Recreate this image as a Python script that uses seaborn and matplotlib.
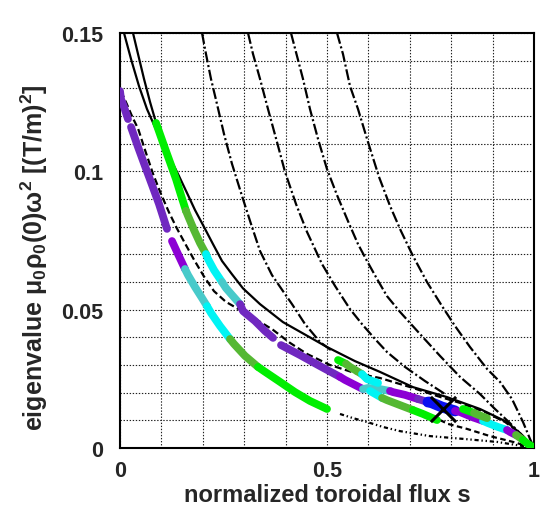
import numpy as np
import matplotlib
matplotlib.use("Agg")
import matplotlib.pyplot as plt
import seaborn as sns
from matplotlib.ticker import MultipleLocator, FixedLocator

# ---------------- data ----------------
# solid continuum branch 1
s1_x = [0.0097, 0.0266, 0.0459, 0.0652, 0.0845, 0.1039, 0.1232, 0.1425, 0.1618, 0.1812,
        0.2029, 0.2246, 0.2464, 0.2705, 0.2971, 0.3382, 0.3937, 0.5000, 0.5676, 0.6280,
        0.7077, 0.7899, 0.8696, 0.9348, 0.9734, 1.0]
s1_y = [0.1500, 0.1406, 0.1308, 0.1225, 0.1160, 0.1099, 0.1041, 0.0983, 0.0922, 0.0860,
        0.0799, 0.0737, 0.0676, 0.0628, 0.0577, 0.0520, 0.0455, 0.0365, 0.0314, 0.0275,
        0.0220, 0.0184, 0.0141, 0.0094, 0.0043, 0.0]
# solid continuum branch 2 (upper part)
s2_x = [0.0314, 0.0435, 0.0580, 0.0725, 0.0845, 0.0966, 0.1111, 0.1232]
s2_y = [0.1500, 0.1424, 0.1334, 0.1251, 0.1189, 0.1135, 0.1073, 0.1023]
# dashed branch
d_x = [0.0024, 0.0165, 0.0300, 0.0440, 0.0620, 0.0800, 0.0990, 0.1180, 0.1370, 0.1580,
       0.1790, 0.2020, 0.2270, 0.2560, 0.2899, 0.3309, 0.3696, 0.4106, 0.4517, 0.5072,
       0.5676, 0.6280, 0.7077, 0.7657, 0.8213, 0.8816, 0.9300, 0.9662, 1.0]
d_y = [0.1290, 0.1243, 0.1196, 0.1153, 0.1070, 0.0990, 0.0918, 0.0853, 0.0795, 0.0737,
       0.0680, 0.0622, 0.0567, 0.0528, 0.0499, 0.0463, 0.0427, 0.0380, 0.0340, 0.0300,
       0.0271, 0.0253, 0.0217, 0.0188, 0.0163, 0.0130, 0.0094, 0.0054, 0.0]
# dash-dot branches
c1_x = [0.1981, 0.2077, 0.2198, 0.2343, 0.2512, 0.2705, 0.2947, 0.3164, 0.3382, 0.3671,
        0.3937, 0.4155, 0.4469, 0.4831, 0.5121]
c1_y = [0.1500, 0.1424, 0.1334, 0.1243, 0.1135, 0.1027, 0.0911, 0.0810, 0.0712, 0.0625,
        0.0567, 0.0520, 0.0448, 0.0383, 0.0351]
c2_x = [0.3092, 0.3213, 0.3382, 0.3575, 0.3792, 0.3986, 0.4251, 0.4517, 0.4879, 0.5193,
        0.5556, 0.5845, 0.6159, 0.6449, 0.6884, 0.7367, 0.7850]
c2_y = [0.1500, 0.1424, 0.1334, 0.1225, 0.1106, 0.0998, 0.0882, 0.0781, 0.0665, 0.0586,
        0.0502, 0.0448, 0.0394, 0.0347, 0.0293, 0.0242, 0.0195]
c3_x = [0.4130, 0.4275, 0.4420, 0.4589, 0.4783, 0.5000, 0.5242, 0.5507, 0.5749, 0.5966,
        0.6208, 0.6449, 0.6763, 0.7246, 0.7729, 0.8213, 0.8696, 0.9058, 0.9420, 0.9734, 1.0]
c3_y = [0.1500, 0.1417, 0.1334, 0.1225, 0.1117, 0.1008, 0.0914, 0.0820, 0.0737, 0.0676,
        0.0611, 0.0549, 0.0492, 0.0412, 0.0333, 0.0257, 0.0195, 0.0141, 0.0090, 0.0043, 0.0]
c4_x = [0.5242, 0.5386, 0.5556, 0.5749, 0.5990, 0.6256, 0.6522, 0.6787, 0.7077, 0.7415,
        0.7778, 0.8092, 0.8454, 0.8865, 0.9179, 0.9469, 0.9734, 0.9903, 1.0]
c4_y = [0.1500, 0.1424, 0.1308, 0.1225, 0.1106, 0.0980, 0.0875, 0.0784, 0.0694, 0.0600,
        0.0513, 0.0441, 0.0365, 0.0286, 0.0239, 0.0177, 0.0094, 0.0033, 0.0]
# lower branches
l1_x = [0.5314, 0.5628, 0.5966, 0.6353, 0.6763, 0.7488, 0.8285, 0.9106, 0.9734, 1.0]
l1_y = [0.0123, 0.0108, 0.0094, 0.0076, 0.0061, 0.0043, 0.0033, 0.0022, 0.0007, 0.0]
l2_x = [0.7729, 0.7923, 0.8382, 0.8937, 0.9493, 0.9903, 1.0]
l2_y = [0.0101, 0.0087, 0.0069, 0.0043, 0.0022, 0.0004, 0.0]

# coloured eigenmode bands (segments, in order along each band)
p1_x = [0.0, 0.0024, 0.0097, 0.0193];            p1_y = [0.1290, 0.1261, 0.1233, 0.1189]
p2_x = [0.0266, 0.0435, 0.0604, 0.0773, 0.0942, 0.1135]
p2_y = [0.1160, 0.1088, 0.1019, 0.0951, 0.0882, 0.0792]
p3_x = [0.1256, 0.1401, 0.1570];                  p3_y = [0.0748, 0.0701, 0.0647]
p4_x = [0.1643, 0.1812, 0.1981, 0.2101];          p4_y = [0.0625, 0.0582, 0.0542, 0.0513]
p5_x = [0.2198, 0.2415, 0.2657];                  p5_y = [0.0488, 0.0441, 0.0394]
p6_x = [0.2754, 0.3019, 0.3333];                  p6_y = [0.0376, 0.0333, 0.0293]
p7_x = [0.3478, 0.3865, 0.4227, 0.4589, 0.5000];  p7_y = [0.0278, 0.0239, 0.0202, 0.0170, 0.0141]

g1_x = [0.0870, 0.0990, 0.1111, 0.1232, 0.1353, 0.1473, 0.1594]
g1_y = [0.1175, 0.1124, 0.1073, 0.1023, 0.0972, 0.0914, 0.0857]
g2_x = [0.1643, 0.1787, 0.1932, 0.2077];          g2_y = [0.0839, 0.0788, 0.0741, 0.0701]
g3_x = [0.2126, 0.2271, 0.2464];                  g3_y = [0.0683, 0.0643, 0.0600]
g4_x = [0.2560, 0.2729, 0.2899];                  g4_y = [0.0578, 0.0549, 0.0520]
g5_x = [0.2971, 0.3261, 0.3502, 0.3696];          g5_y = [0.0495, 0.0459, 0.0423, 0.0398]
g6_x = [0.3889, 0.4348, 0.4831, 0.5314];          g6_y = [0.0372, 0.0336, 0.0296, 0.0257]
g7_x = [0.5435, 0.5870];                          g7_y = [0.0246, 0.0213]
g8_x = [0.5990, 0.6280, 0.6522];                  g8_y = [0.0217, 0.0213, 0.0206]
g9_x = [0.6594, 0.6884, 0.7198];                  g9_y = [0.0202, 0.0192, 0.0177]
g10_x = [0.7198, 0.7440];                         g10_y = [0.0177, 0.0166]
g11_x = [0.7488, 0.7778, 0.8092];                 g11_y = [0.0166, 0.0148, 0.0134]
g12_x = [0.8213, 0.8502, 0.8768];                 g12_y = [0.0130, 0.0112, 0.0098]
g13_x = [0.8889, 0.9130, 0.9348];                 g13_y = [0.0090, 0.0076, 0.0065]
g14_x = [0.9420, 0.9565];                         g14_y = [0.0058, 0.0047]
g15_x = [0.9565, 0.9734];                         g15_y = [0.0047, 0.0029]
g16_x = [0.9855, 0.9976];                         g16_y = [0.0014, 0.0004]

h1_x = [0.5266, 0.5459];                          h1_y = [0.0318, 0.0304]
h2_x = [0.5556, 0.5845];                          h2_y = [0.0293, 0.0267]
h3_x = [0.5966, 0.6232];                          h3_y = [0.0249, 0.0235]
h4_x = [0.8285, 0.8551];                          h4_y = [0.0141, 0.0127]
h5_x = [0.8599, 0.8865];                          h5_y = [0.0123, 0.0108]

k1_x = [0.6039, 0.6329];                          k1_y = [0.0206, 0.0181]
k2_x = [0.6449, 0.6763, 0.7077];                  k2_y = [0.0173, 0.0155, 0.0137]
k3_x = [0.7319, 0.7488, 0.7657];                  k3_y = [0.0123, 0.0112, 0.0101]

cross_x = [0.7802]
cross_y = [0.0141]

x_ticks = [0, 0.5, 1]
x_tick_labels = ["0", "0.5", "1"]
y_ticks = [0, 0.05, 0.1, 0.15]
y_tick_labels = ["0", "0.05", "0.1", "0.15"]

# ---------------- styling ----------------
sns.set_style("white")
plt.rcParams["font.family"] = ["Liberation Sans", "DejaVu Sans"]
plt.rcParams["font.weight"] = "bold"
plt.rcParams["mathtext.fontset"] = "custom"
plt.rcParams["mathtext.rm"] = "Liberation Sans:bold"
plt.rcParams["mathtext.it"] = "Liberation Sans:bold"
plt.rcParams["mathtext.bf"] = "Liberation Sans:bold"
plt.rcParams["mathtext.default"] = "rm"
plt.rcParams["lines.scale_dashes"] = False

LIME = "#00EE00"
DGREEN = "#55B833"
CYAN = "#00F4F4"
TEAL = "#48CACA"
VIOLET = "#8C00D4"
INDIGO = "#7028C0"
BLUE = "#0A10F0"

fig = plt.figure(figsize=(5.41, 5.10), dpi=100)
ax = fig.add_axes([120 / 541, 1 - 449 / 510, 414 / 541, 415 / 510])


def draw(xs, ys, color="black", lw=1.6, dashes=None, z=3, cap="butt"):
    sns.lineplot(x=xs, y=ys, ax=ax, color=color, sort=False, estimator=None,
                 legend=False, linewidth=lw)
    ln = ax.lines[-1]
    ln.set_zorder(z)
    ln.set_solid_capstyle(cap)
    ln.set_dash_capstyle(cap)
    ln.set_solid_joinstyle("round")
    if dashes is not None:
        ln.set_dashes(dashes)


# black continuum curves
draw(s1_x, s1_y)
draw(s2_x, s2_y)
draw(d_x, d_y, dashes=(5, 2.5))
draw(c1_x, c1_y, dashes=(8, 2, 1.5, 2))
draw(c2_x, c2_y, dashes=(8, 2, 1.5, 2))
draw(c3_x, c3_y, dashes=(8, 2, 1.5, 2))
draw(c4_x, c4_y, dashes=(8, 2, 1.5, 2))
draw(l1_x, l1_y, dashes=(3, 2, 1, 2, 1, 2))
draw(l2_x, l2_y, dashes=(4, 2.5))

# coloured bands: consecutive segments are joined end to start
BW = 5.6
band_p = [(p1_x, p1_y, INDIGO, False), (p2_x, p2_y, INDIGO, False),
          (p3_x, p3_y, VIOLET, False), (p4_x, p4_y, TEAL, True),
          (p5_x, p5_y, CYAN, True), (p6_x, p6_y, DGREEN, True), (p7_x, p7_y, LIME, True)]
band_g = [(g1_x, g1_y, LIME, False), (g2_x, g2_y, DGREEN, True), (g3_x, g3_y, CYAN, True),
          (g4_x, g4_y, TEAL, True), (g5_x, g5_y, INDIGO, True), (g6_x, g6_y, INDIGO, False),
          (g7_x, g7_y, VIOLET, True), (g8_x, g8_y, TEAL, True), (g9_x, g9_y, VIOLET, True),
          (g10_x, g10_y, INDIGO, True), (g11_x, g11_y, BLUE, True), (g12_x, g12_y, VIOLET, True),
          (g13_x, g13_y, CYAN, True), (g14_x, g14_y, VIOLET, True), (g15_x, g15_y, DGREEN, True),
          (g16_x, g16_y, LIME, True)]
band_h = [(h1_x, h1_y, LIME, False), (h2_x, h2_y, DGREEN, True), (h3_x, h3_y, CYAN, True),
          (h4_x, h4_y, LIME, False), (h5_x, h5_y, DGREEN, True)]
band_k = [(k1_x, k1_y, CYAN, False), (k2_x, k2_y, DGREEN, True), (k3_x, k3_y, LIME, True)]

for band in (band_p, band_g, band_h, band_k):
    prev = None
    for bx, by, bc, join in band:
        xs, ys = list(bx), list(by)
        if join and prev is not None:
            xs = [prev[0]] + xs
            ys = [prev[1]] + ys
        w = 7.8 if bc == BLUE else BW
        draw(xs, ys, color=bc, lw=w, z=4, cap="round")
        prev = (bx[-1], by[-1])

# marker
sns.scatterplot(x=cross_x, y=cross_y, ax=ax, marker="x", s=330, color="black",
                linewidth=2.2, zorder=6, legend=False)

# axes
ax.set_xlim(0, 1)
ax.set_ylim(0, 0.15)
ax.xaxis.set_major_locator(FixedLocator(x_ticks))
ax.yaxis.set_major_locator(FixedLocator(y_ticks))
ax.set_xticklabels(x_tick_labels)
ax.set_yticklabels(y_tick_labels)
ax.xaxis.set_minor_locator(MultipleLocator(0.1))
ax.yaxis.set_minor_locator(MultipleLocator(0.01))
ax.tick_params(axis="both", which="both", length=0, labelsize=15.5)
ax.tick_params(axis="x", pad=9)
ax.tick_params(axis="y", pad=12)
for lab in ax.get_xticklabels() + ax.get_yticklabels():
    lab.set_fontweight("bold")
ax.grid(True, which="both", color="#222222", linestyle=(0, (1, 1.2)), linewidth=0.8)
ax.set_axisbelow(True)
for sp in ax.spines.values():
    sp.set_color("black")
    sp.set_linewidth(1.5)
    sp.set_visible(True)

ax.set_xlabel("normalized toroidal flux s", fontsize=17, fontweight="bold", labelpad=1)
ax.set_ylabel(r"eigenvalue $\mu_0\rho_0$(0)$\omega^2$ [(T/m)$^2$]", fontsize=18,
              fontweight="bold")
ax.yaxis.set_label_coords(-0.17, 0.46)

fig.savefig("out.png", dpi=100)
